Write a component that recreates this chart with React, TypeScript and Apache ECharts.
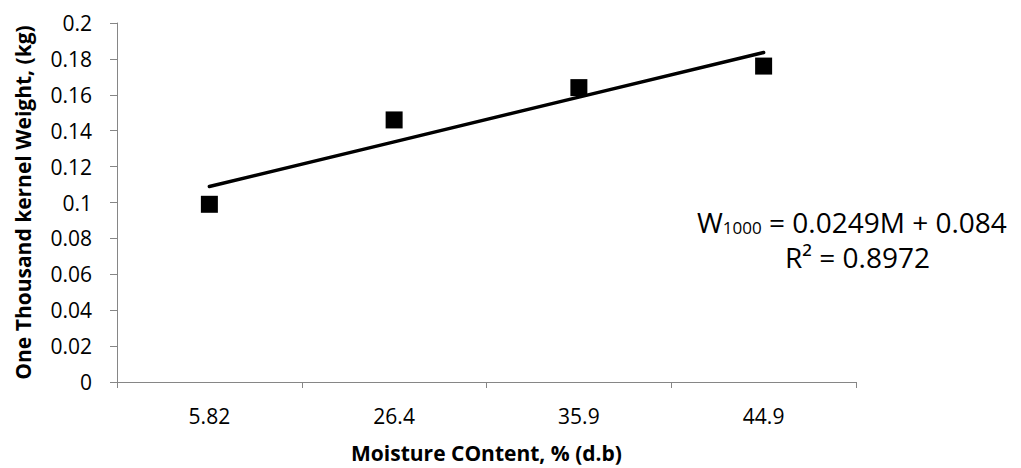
import React, { useEffect, useRef } from "react";
import * as echarts from "echarts";

const categories = ["5.82", "26.4", "35.9", "44.9"];
const weights = [0.099, 0.146, 0.164, 0.176];
const trendValues = [0.1089, 0.1338, 0.1587, 0.1836];
const yTicks = { min: 0, max: 0.2, interval: 0.02 };

export default function App() {
  const ref = useRef<HTMLDivElement>(null);
  useEffect(() => {
    if (!ref.current) return;
    const chart = echarts.init(ref.current, undefined, { renderer: "svg" });
    const font = "'Open Sans', 'Liberation Sans', sans-serif";
    chart.setOption({
      animation: false,
      backgroundColor: "#ffffff",
      textStyle: { fontFamily: font },
      grid: { left: 117, right: 165, top: 23, bottom: 81, containLabel: false },
      xAxis: {
        type: "category",
        data: categories,
        boundaryGap: true,
        axisLine: { lineStyle: { color: "#868686", width: 1 } },
        axisTick: { show: true, alignWithLabel: false, length: 6, lineStyle: { color: "#868686" }, inside: false },
        axisLabel: { color: "#000", fontSize: 21, margin: 23, fontFamily: font },
        splitLine: { show: false },
        name: "Moisture COntent, % (d.b)",
        nameLocation: "middle",
        nameGap: 60,
        nameTextStyle: { color: "#000", fontSize: 21, fontWeight: "bold", fontFamily: font },
      },
      yAxis: {
        type: "value",
        min: yTicks.min,
        max: yTicks.max,
        interval: yTicks.interval,
        axisLine: { show: true, lineStyle: { color: "#868686", width: 1 } },
        axisTick: { show: true, length: 7, lineStyle: { color: "#868686" } },
        axisLabel: {
          color: "#000",
          fontSize: 21,
          margin: 25,
          fontFamily: font,
          formatter: (v: number) => String(parseFloat(v.toFixed(2))),
        },
        splitLine: { show: false },
        name: "One Thousand kernel Weight, (kg)",
        nameLocation: "middle",
        nameGap: 84,
        nameTextStyle: { color: "#000", fontSize: 21, fontWeight: "bold", fontFamily: font },
      },
      series: [
        {
          type: "line",
          data: trendValues,
          symbol: "none",
          lineStyle: { color: "#000", width: 3.5, cap: "round" },
          z: 2,
        },
        {
          type: "scatter",
          data: weights,
          symbol: "rect",
          symbolSize: 17,
          itemStyle: { color: "#000", opacity: 1 },
          z: 3,
        },
      ],
      graphic: [
        {
          type: "text",
          left: 697,
          top: 208,
          style: {
            text: "{w|W}{sub|1000}{w| = 0.0249M + 0.084}",
            rich: {
              w: { fontSize: 28, fill: "#000", fontFamily: font, verticalAlign: "bottom", lineHeight: 32 },
              sub: { fontSize: 17, fill: "#000", fontFamily: font, padding: [10, 0, 0, 0], verticalAlign: "bottom", lineHeight: 22 },
            },
          },
        },
        {
          type: "text",
          left: 785,
          top: 242,
          style: {
            text: "R² = 0.8972",
            fontSize: 28,
            lineHeight: 30,
            fill: "#000",
            fontFamily: font,
          },
        },
      ],
    });
    return () => chart.dispose();
  }, []);
  return <div ref={ref} style={{ width: 1021, height: 468, position: "absolute", left: 0, top: 0 }} />;
}
